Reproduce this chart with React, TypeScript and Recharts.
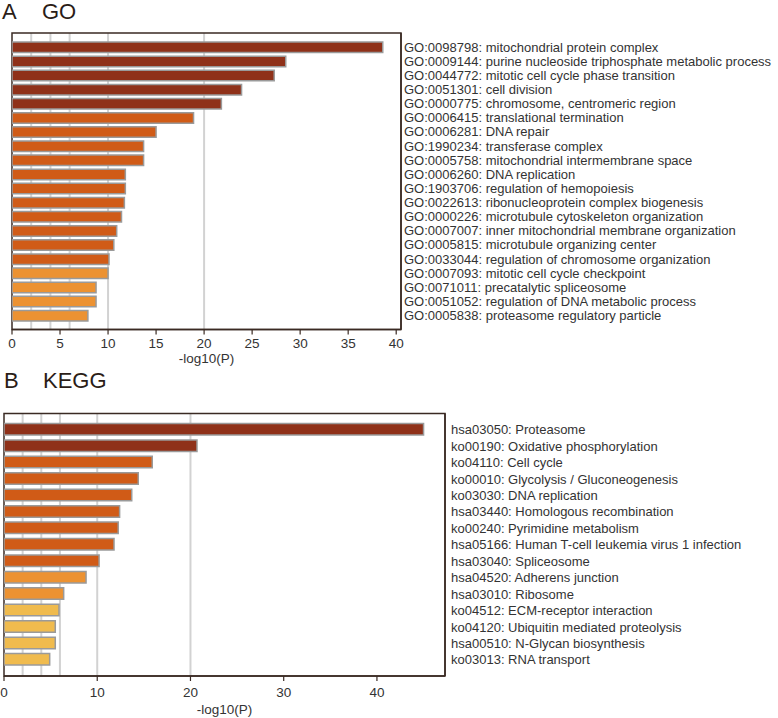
import * as Recharts from 'recharts';
import { BarChart, Bar, XAxis, YAxis, Cell, CartesianGrid } from 'recharts';

const goTerms = [
  'GO:0098798: mitochondrial protein complex',
  'GO:0009144: purine nucleoside triphosphate metabolic process',
  'GO:0044772: mitotic cell cycle phase transition',
  'GO:0051301: cell division',
  'GO:0000775: chromosome, centromeric region',
  'GO:0006415: translational termination',
  'GO:0006281: DNA repair',
  'GO:1990234: transferase complex',
  'GO:0005758: mitochondrial intermembrane space',
  'GO:0006260: DNA replication',
  'GO:1903706: regulation of hemopoiesis',
  'GO:0022613: ribonucleoprotein complex biogenesis',
  'GO:0000226: microtubule cytoskeleton organization',
  'GO:0007007: inner mitochondrial membrane organization',
  'GO:0005815: microtubule organizing center',
  'GO:0033044: regulation of chromosome organization',
  'GO:0007093: mitotic cell cycle checkpoint',
  'GO:0071011: precatalytic spliceosome',
  'GO:0051052: regulation of DNA metabolic process',
  'GO:0005838: proteasome regulatory particle',
];
const goValues = [38.6, 28.5, 27.3, 23.9, 21.8, 18.9, 15.0, 13.7, 13.7, 11.8, 11.8, 11.7, 11.4, 10.9, 10.6, 10.1, 10.0, 8.75, 8.75, 7.9];
const goLevels = [0, 0, 0, 0, 0, 1, 1, 1, 1, 1, 1, 1, 1, 1, 1, 1, 2, 2, 2, 2];
const goTicks = [0, 5, 10, 15, 20, 25, 30, 35, 40];

const keggTerms = [
  'hsa03050: Proteasome',
  'ko00190: Oxidative phosphorylation',
  'ko04110: Cell cycle',
  'ko00010: Glycolysis / Gluconeogenesis',
  'ko03030: DNA replication',
  'hsa03440: Homologous recombination',
  'ko00240: Pyrimidine metabolism',
  'hsa05166: Human T-cell leukemia virus 1 infection',
  'hsa03040: Spliceosome',
  'hsa04520: Adherens junction',
  'hsa03010: Ribosome',
  'ko04512: ECM-receptor interaction',
  'ko04120: Ubiquitin mediated proteolysis',
  'hsa00510: N-Glycan biosynthesis',
  'ko03013: RNA transport',
];
const keggValues = [45.0, 20.7, 15.9, 14.4, 13.7, 12.4, 12.25, 11.8, 10.2, 8.8, 6.4, 5.9, 5.5, 5.5, 4.9];
const keggLevels = [0, 0, 1, 1, 1, 1, 1, 1, 1, 2, 2, 3, 3, 3, 3];
const keggTicks = [0, 10, 20, 30, 40];

const gridValues = [2, 4, 6, 10, 20];
const palette = ['#8f3119', '#d05b17', '#ec9232', '#f0bb4e'];

const ink = '#3a2a23';
const textInk = '#333333';
const font = '"Liberation Sans", Arial, sans-serif';

const usePlotArea: any = (Recharts as any).usePlotArea;

// box drawn round the plot area
function Frame() {
  const area = usePlotArea ? usePlotArea() : null;
  if (!area) return null;
  return <rect x={area.x} y={area.y} width={area.width} height={area.height} fill="none" stroke={ink} strokeWidth={1.5} />;
}

function TermTick(props: any) {
  const { x, y, payload } = props;
  return (
    <text x={x} y={y} dy="0.355em" textAnchor="start" fill={textInk} fontSize={13} fontFamily={font}>
      {payload.value}
    </text>
  );
}

type PanelProps = {
  terms: string[];
  values: number[];
  levels: number[];
  ticks: number[];
  maxX: number;
  height: number;
  top: number;
  left: number;
  right: number;
  pad: number;
  barSize: number;
  labelGap: number;
  axisHeight: number;
  tickGap: number;
  titleOffset: number;
};

function Panel(p: PanelProps) {
  const data = p.terms.map((name, i) => ({ name, value: p.values[i], level: p.levels[i] }));
  return (
    <BarChart
      width={778}
      height={p.height}
      data={data}
      layout="vertical"
      margin={{ top: p.top, left: p.left, right: 0, bottom: 0 }}
      barCategoryGap={0}
    >
      <CartesianGrid horizontal={false} verticalValues={gridValues} stroke="#d2d2d2" strokeWidth={2} />
      <XAxis
        type="number"
        domain={[0, p.maxX]}
        ticks={p.ticks}
        allowDataOverflow
        height={p.axisHeight}
        tickSize={5}
        tickMargin={p.tickGap}
        axisLine={{ stroke: ink, strokeWidth: 1.5 }}
        tickLine={{ stroke: ink, strokeWidth: 1.2 }}
        tick={{ fill: textInk, fontSize: 13.5, fontFamily: font }}
        label={{ value: '-log10(P)', position: 'insideBottom', offset: p.titleOffset, fill: textInk, fontSize: 13.5, fontFamily: font }}
      />
      <YAxis
        type="category"
        dataKey="name"
        orientation="right"
        width={778 - p.right}
        padding={{ top: p.pad, bottom: p.pad }}
        interval={0}
        tickLine={false}
        tickSize={0}
        tickMargin={p.labelGap}
        axisLine={{ stroke: ink, strokeWidth: 1.5 }}
        tick={<TermTick />}
      />
      <Bar dataKey="value" barSize={p.barSize} stroke="#9a9a9a" strokeWidth={1.5} isAnimationActive={false}>
        {data.map((d, i) => (
          <Cell key={i} fill={palette[d.level]} />
        ))}
      </Bar>
      <Frame />
    </BarChart>
  );
}

const titleStyle = {
  position: 'absolute' as const,
  fontFamily: font,
  fontSize: 22,
  lineHeight: '22px',
  color: '#2b1d17',
  whiteSpace: 'nowrap' as const,
};

export default function App() {
  return (
    <div style={{ position: 'absolute', left: 0, top: 0, width: 778, height: 718, background: '#fff', overflow: 'hidden' }}>
      <div style={{ ...titleStyle, left: 2, top: 1 }}>A</div>
      <div style={{ ...titleStyle, left: 42, top: 1 }}>GO</div>
      <div style={{ ...titleStyle, left: 4, top: 370 }}>B</div>
      <div style={{ ...titleStyle, left: 43, top: 370 }}>KEGG</div>
      <div style={{ position: 'absolute', left: 0, top: 0 }}>
        <Panel
          terms={goTerms}
          values={goValues}
          levels={goLevels}
          ticks={goTicks}
          maxX={40.5}
          height={370}
          top={33}
          left={12}
          right={401}
          pad={7}
          barSize={10.5}
          labelGap={3}
          axisHeight={40.5}
          tickGap={4}
          titleOffset={7.5}
        />
      </div>
      <div style={{ position: 'absolute', left: 0, top: 380 }}>
        <Panel
          terms={keggTerms}
          values={keggValues}
          levels={keggLevels}
          ticks={keggTicks}
          maxX={47.3}
          height={338}
          top={33.5}
          left={4}
          right={445}
          pad={8}
          barSize={11.5}
          labelGap={6}
          axisHeight={42}
          tickGap={6}
          titleOffset={4.5}
        />
      </div>
    </div>
  );
}
